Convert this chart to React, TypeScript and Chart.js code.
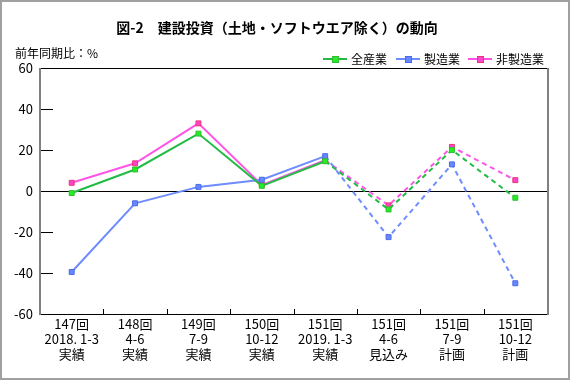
import React, { useEffect, useRef } from "react";
import { Chart, registerables } from "chart.js";

Chart.register(...registerables);

const TITLE = "図-2　建設投資（土地・ソフトウエア除く）の動向";
const Y_UNIT = "前年同期比：%";

const categories: string[][] = [
  ["147回", "2018. 1-3", "実績"],
  ["148回", "4-6", "実績"],
  ["149回", "7-9", "実績"],
  ["150回", "10-12", "実績"],
  ["151回", "2019. 1-3", "実績"],
  ["151回", "4-6", "見込み"],
  ["151回", "7-9", "計画"],
  ["151回", "10-12", "計画"],
];

const seriesNames = ["全産業", "製造業", "非製造業"];
const allIndustry = [-1, 10.5, 28, 2.5, 14.5, -9, 20, -3.3];
const manufacturing = [-39.5, -6, 2, 5.5, 17, -22.5, 13, -45];
const nonManufacturing = [4, 13.5, 33, 3, 15, -7, 21.5, 5.3];

const yTicks = [-60, -40, -20, 0, 20, 40, 60];
const firstForecastIndex = 4;

const lineColors = ["#22bb44", "#6f8cff", "#ff55e6"];
const fillColors = ["#22ee22", "#6688ff", "#ff44cc"];
const edgeColors = ["#33bb33", "#4a6ae8", "#ee3377"];

const NUM_FONT = '"Liberation Sans Narrow", "Noto Sans CJK JP", sans-serif';
const JP_FONT = '"Noto Sans CJK JP", sans-serif';

const framePlugin = {
  id: "framePlugin",
  beforeDraw(chart: any) {
    const { ctx, width, height } = chart;
    ctx.save();
    ctx.fillStyle = "#ffffff";
    ctx.fillRect(0, 0, width, height);
    ctx.strokeStyle = "#a0a0a0";
    ctx.lineWidth = 2;
    ctx.strokeRect(1, 1, width - 2, height - 2);
    ctx.restore();
  },
  afterDraw(chart: any) {
    const { ctx, chartArea } = chart;
    const { left, right, top, bottom } = chartArea;
    const yScale = chart.scales.y;
    const xScale = chart.scales.x;
    ctx.save();
    ctx.strokeStyle = "#000";
    ctx.lineWidth = 1;
    ctx.beginPath();
    ctx.moveTo(left, top + 0.5);
    ctx.lineTo(right, top + 0.5);
    ctx.moveTo(left, bottom + 0.5);
    ctx.lineTo(right, bottom + 0.5);
    ctx.stroke();
    ctx.beginPath();
    yTicks.forEach((v) => {
      if (v === 0 || v === 60 || v === -60) return;
      const y = Math.round(yScale.getPixelForValue(v)) + 0.5;
      ctx.moveTo(left, y);
      ctx.lineTo(left + 13, y);
    });
    for (let i = 1; i < categories.length; i++) {
      const x = Math.round((xScale.getPixelForValue(i - 1) + xScale.getPixelForValue(i)) / 2) + 0.5;
      ctx.moveTo(x, bottom);
      ctx.lineTo(x, bottom - 5);
    }
    ctx.stroke();
    ctx.strokeStyle = "#808080";
    ctx.lineWidth = 2;
    ctx.beginPath();
    ctx.moveTo(left, top);
    ctx.lineTo(left, bottom + 1);
    ctx.moveTo(right + 1, top);
    ctx.lineTo(right + 1, bottom + 1);
    ctx.stroke();

    ctx.fillStyle = "#000";
    ctx.textBaseline = "middle";
    ctx.textAlign = "center";
    ctx.font = "bold 14px " + JP_FONT;
    ctx.fillText(TITLE, 277, 28);
    ctx.textAlign = "left";
    ctx.font = "12px " + JP_FONT;
    ctx.fillText(Y_UNIT, 15, 53);

    const legendX = [323, 396, 468];
    const ly = 59;
    seriesNames.forEach((name, i) => {
      const x0 = legendX[i];
      ctx.strokeStyle = lineColors[i];
      ctx.lineWidth = 2;
      ctx.beginPath();
      ctx.moveTo(x0, ly);
      ctx.lineTo(x0 + 24, ly);
      ctx.stroke();
      ctx.fillStyle = fillColors[i];
      ctx.fillRect(x0 + 9, ly - 3, 7, 7);
      ctx.strokeStyle = edgeColors[i];
      ctx.lineWidth = 1;
      ctx.strokeRect(x0 + 9.5, ly - 2.5, 6, 6);
      ctx.fillStyle = "#000";
      ctx.font = "12px " + JP_FONT;
      ctx.textAlign = "left";
      ctx.fillText(name, x0 + 28, ly);
    });
    ctx.restore();
  },
};

const seriesData = [allIndustry, manufacturing, nonManufacturing];

export default function App() {
  const ref = useRef<HTMLCanvasElement | null>(null);
  useEffect(() => {
    document.body.style.margin = "0";
    if (!ref.current) return;
    const chart = new Chart(ref.current, {
      type: "line",
      data: {
        labels: categories,
        datasets: seriesData.map((d, i) => ({
          label: seriesNames[i],
          data: d,
          borderColor: lineColors[i],
          borderWidth: 2,
          backgroundColor: fillColors[i],
          pointStyle: "rect",
          pointRadius: 3.5,
          pointHoverRadius: 3.5,
          pointBackgroundColor: fillColors[i],
          pointBorderColor: edgeColors[i],
          pointBorderWidth: 1,
          tension: 0,
          segment: {
            borderDash: (ctx: any) => (ctx.p0DataIndex >= firstForecastIndex ? [5, 4] : undefined),
          },
        })),
      },
      options: {
        responsive: false,
        animation: false,
        devicePixelRatio: 1,
        layout: { padding: { left: 0, right: 23, top: 68, bottom: 0 } },
        plugins: {
          legend: { display: false },
          title: { display: false },
          tooltip: { enabled: false },
        },
        scales: {
          x: {
            offset: true,
            grid: { display: false, drawTicks: false },
            border: { display: false },
            ticks: {
              autoSkip: false,
              maxRotation: 0,
              color: "#000",
              padding: 3,
              font: { family: NUM_FONT, size: 13, lineHeight: 1.15 },
            },
            afterFit: (scale: any) => {
              scale.height = 66;
            },
          },
          y: {
            min: -60,
            max: 60,
            afterBuildTicks: (scale: any) => {
              scale.ticks = yTicks.map((v) => ({ value: v }));
            },
            grid: {
              drawTicks: false,
              color: (ctx: any) => (ctx.tick && ctx.tick.value === 0 ? "#000" : "rgba(0,0,0,0)"),
              lineWidth: 1,
            },
            border: { display: false },
            ticks: {
              color: "#000",
              padding: 7,
              font: { family: NUM_FONT, size: 13 },
            },
            afterFit: (scale: any) => {
              scale.width = 40;
            },
          },
        },
      },
      plugins: [framePlugin],
    });
    return () => chart.destroy();
  }, []);
  return (
    <div style={{ position: "absolute", left: 0, top: 0, width: 570, height: 380 }}>
      <canvas ref={ref} width={570} height={380} style={{ width: 570, height: 380, display: "block" }} />
    </div>
  );
}
